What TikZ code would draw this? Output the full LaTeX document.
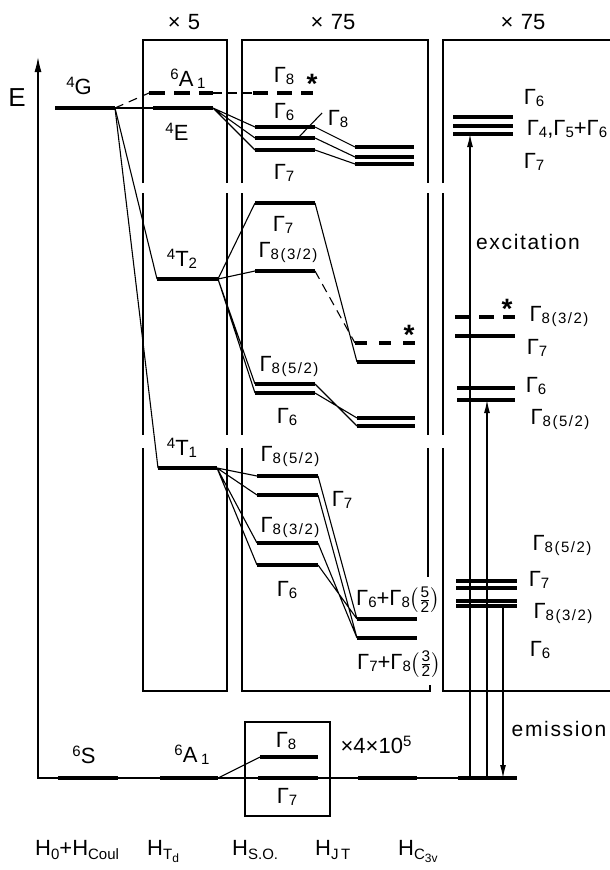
\documentclass[tikz,border=0pt]{standalone}
\usepackage{amsmath}
\usepackage{graphicx}
\usepackage{fontspec}
\setmainfont{Liberation Sans}
\usetikzlibrary{arrows.meta}
\newcommand\lo[1]{\raisebox{-2pt}{\fontsize{15}{15}\selectfont\addfontfeature{LetterSpace=10}#1}}
\newcommand\llo[1]{\raisebox{-4pt}{\fontsize{15}{15}\selectfont #1}}
\newcommand\hi[1]{\raisebox{7.5pt}{\fontsize{15}{15}\selectfont #1}}
\newcommand\G[1]{Γ\lo{#1}}
\newcommand\fr[2]{$\left(\frac{\text{#1}}{\text{#2}}\right)$}
\begin{document}
\begin{tikzpicture}[x=1pt,y=-1pt,
  lvl/.style={line width=4.4pt},
  dlvl/.style={line width=4.4pt, dash pattern=on 15pt off 9pt},
  djt/.style={line width=4.4pt, dash pattern=on 12pt off 12pt},
  thinln/.style={line width=1.1pt},
  dthin/.style={line width=1.1pt, dash pattern=on 9pt off 6pt},
  frame/.style={line width=1.3pt},
  lbl/.style={font=\fontsize{22}{22}\selectfont, inner sep=0pt},
  word/.style={font=\fontsize{21}{21}\selectfont\addfontfeature{LetterSpace=8}, inner sep=0pt},
  star/.style={font=\fontsize{28}{28}\selectfont\bfseries, inner sep=0pt, anchor=north},
  arr/.style={line width=1.2pt, -{Latex[length=13pt,width=6pt]}},
]
\useasboundingbox (0,0) rectangle (610,870);

% ---------- frames ----------
\draw[frame] (143,183) -- (143,40) -- (227,40) -- (227,183);
\draw[frame] (143,193) -- (143,435) (227,193) -- (227,435);
\draw[frame] (143,448) -- (143,691) -- (227,691) -- (227,448);
\draw[frame] (242,183) -- (242,40) -- (428,40) -- (428,183);
\draw[frame] (242,193) -- (242,435) (428,193) -- (428,435);
\draw[frame] (242,448) -- (242,691) -- (430,691) -- (430,685) (428,448) -- (428,577);
\draw[frame] (443,183) -- (443,40) -- (615,40);
\draw[frame] (443,193) -- (443,435);
\draw[frame] (443,448) -- (443,691) -- (615,691);
\draw[frame] (245,722) rectangle (330,816);

% ---------- coordinates ----------
\coordinate (O) at (38,778);
\coordinate (Etop) at (38,57);
\coordinate (Bend) at (517,778);
\coordinate (G1) at (55,108);  \coordinate (G2) at (115,108);
\coordinate (A1a) at (149,93); \coordinate (A1b) at (213,93);
\coordinate (Ea) at (153,108); \coordinate (Eb) at (213,108);
\coordinate (T2a) at (157,279); \coordinate (T2b) at (218,279);
\coordinate (T1a) at (158,468); \coordinate (T1b) at (217,468);
% box 2 top
\coordinate (g8a) at (253,93);  \coordinate (g8b) at (313,93);
\coordinate (g6a) at (255,127); \coordinate (g6b) at (315,127);
\coordinate (gma) at (255,138); \coordinate (gmb) at (315,138);
\coordinate (g7a) at (255,150); \coordinate (g7b) at (315,150);
\coordinate (j1a) at (355,147); \coordinate (j1b) at (414,147);
\coordinate (j2a) at (355,157); \coordinate (j2b) at (414,157);
\coordinate (j3a) at (355,164); \coordinate (j3b) at (414,164);
% 4T2
\coordinate (u7a) at (255,203);  \coordinate (u7b) at (315,203);
\coordinate (u83a) at (255,271); \coordinate (u83b) at (315,271);
\coordinate (u85a) at (255,384); \coordinate (u85b) at (315,384);
\coordinate (u6a) at (255,393);  \coordinate (u6b) at (315,393);
\coordinate (k8a) at (355,343); \coordinate (k8b) at (415,343);
\coordinate (k7a) at (357,362); \coordinate (k7b) at (415,362);
\coordinate (k1a) at (357,418); \coordinate (k1b) at (415,418);
\coordinate (k2a) at (357,426); \coordinate (k2b) at (415,426);
% 4T1
\coordinate (v85a) at (257,476); \coordinate (v85b) at (318,476);
\coordinate (v7a) at (257,495);  \coordinate (v7b) at (318,495);
\coordinate (v83a) at (257,543); \coordinate (v83b) at (318,543);
\coordinate (v6a) at (257,565);  \coordinate (v6b) at (318,565);
\coordinate (m1a) at (357,619); \coordinate (m1b) at (417,619);
\coordinate (m2a) at (357,638); \coordinate (m2b) at (417,638);
% C3v
\coordinate (c1a) at (453,117); \coordinate (c1b) at (513,117);
\coordinate (c2a) at (453,126); \coordinate (c2b) at (513,126);
\coordinate (c3a) at (453,134); \coordinate (c3b) at (513,134);
\coordinate (c8a) at (455,317); \coordinate (c8b) at (515,317);
\coordinate (c7a) at (455,336); \coordinate (c7b) at (515,336);
\coordinate (c6a) at (457,388); \coordinate (c6b) at (515,388);
\coordinate (c5a) at (457,400); \coordinate (c5b) at (515,400);
\coordinate (d1a) at (456,581); \coordinate (d1b) at (517,581);
\coordinate (d2a) at (456,588); \coordinate (d2b) at (517,588);
\coordinate (d3a) at (456,601); \coordinate (d3b) at (517,601);
\coordinate (d4a) at (456,606); \coordinate (d4b) at (517,606);
% ground
\coordinate (s6a) at (58,778);  \coordinate (s6b) at (118,778);
\coordinate (a6a) at (160,778); \coordinate (a6b) at (218,778);
\coordinate (b7a) at (258,778); \coordinate (b7b) at (318,778);
\coordinate (b8a) at (260,757); \coordinate (b8b) at (318,757);
\coordinate (bja) at (358,778); \coordinate (bjb) at (417,778);
\coordinate (bca) at (458,778); \coordinate (bcb) at (517,778);
% arrows
\coordinate (x1b) at (470,778); \coordinate (x1t) at (470,134);
\coordinate (x2b) at (487,778); \coordinate (x2t) at (487,400);
\coordinate (e1t) at (503,606); \coordinate (e1b) at (503,778);

% ---------- axis ----------
\draw[line width=1.3pt, -{Latex[length=15pt,width=7pt]}] (Bend) -- (O) -- (Etop);

% ---------- thin connectors ----------
\draw[thinln] (G2) -- (Ea);
\draw[dthin] (G2) -- (A1a);
\draw[dthin] (A1b) -- (g8a);
\draw[thinln] (G2) -- (T2a);
\draw[thinln] (G2) -- (T1a);
\draw[thinln] (Eb) -- (g6a) (Eb) -- (gma) (Eb) -- (g7a);
\draw[thinln] (g6b) -- (j1a) (gmb) -- (j2a) (g7b) -- (j3a);
\draw[thinln] (T2b) -- (u7a) (T2b) -- (u83a) (T2b) -- (u85a) (T2b) -- (u6a);
\draw[thinln] (u7b) -- (k7a) (u85b) -- (k2a) (u6b) -- (k1a);
\draw[dthin] (u83b) -- (k8a);
\draw[thinln] (T1b) -- (v85a) (T1b) -- (v7a) (T1b) -- (v83a) (T1b) -- (v6a);
\draw[thinln] (v85b) -- (m1a) (v7b) -- (m2a) (v83b) -- (m2a) (v6b) -- (m1a);
\draw[thinln] (a6b) -- (b8a);

% ---------- levels ----------
\draw[lvl] (G1) -- (G2);
\draw[lvl, dash pattern=on 16pt off 9pt] (A1a) -- (A1b);
\draw[lvl] (Ea) -- (Eb);
\draw[lvl] (T2a) -- (T2b);
\draw[lvl] (T1a) -- (T1b);
\draw[dlvl] (g8a) -- (g8b);
\draw[lvl] (g6a) -- (g6b) (gma) -- (gmb) (g7a) -- (g7b);
\draw[lvl] (j1a) -- (j1b) (j2a) -- (j2b) (j3a) -- (j3b);
\draw[lvl] (u7a) -- (u7b) (u83a) -- (u83b) (u85a) -- (u85b) (u6a) -- (u6b);
\draw[djt] (k8a) -- (k8b);
\draw[lvl] (k7a) -- (k7b) (k1a) -- (k1b) (k2a) -- (k2b);
\draw[lvl] (v85a) -- (v85b) (v7a) -- (v7b) (v83a) -- (v83b) (v6a) -- (v6b);
\draw[lvl] (m1a) -- (m1b) (m2a) -- (m2b);
\draw[lvl] (c1a) -- (c1b) (c2a) -- (c2b) (c3a) -- (c3b);
\draw[dlvl] (c8a) -- (c8b);
\draw[lvl] (c7a) -- (c7b) (c6a) -- (c6b) (c5a) -- (c5b);
\draw[lvl] (d1a) -- (d1b) (d2a) -- (d2b) (d3a) -- (d3b) (d4a) -- (d4b);
\draw[lvl] (s6a) -- (s6b) (a6a) -- (a6b) (b7a) -- (b7b) (b8a) -- (b8b) (bja) -- (bjb) (bca) -- (bcb);

% ---------- transitions ----------
\draw[arr] (x1b) -- (x1t);
\draw[arr] (x2b) -- (x2t);
\draw[arr] (e1t) -- (e1b);

% ---------- labels ----------
\node[lbl] (xfive) at (184,22) {×\,\,5};
\node[lbl] (xsa) at (333,22) {×\,\,75};
\node[lbl] (xsb) at (523,22) {×\,\,75};
\node[lbl, font=\fontsize{26}{26}\selectfont] (Elab) at (17,98) {E};
\node[lbl] (lG) at (79,86) {\hi{4}G};
\node[lbl] (lA1) at (188,79) {\hi{6}A\,\lo{1}};
\node[lbl] (lE) at (177,132) {\hi{4}E};
\node[lbl] (lT2) at (182,259) {\hi{4}T\lo{2}};
\node[lbl] (lT1) at (182,448) {\hi{4}T\lo{1}};
\node[lbl] (lS) at (84,755) {\hi{6}S};
\node[lbl] (lA1g) at (192,755) {\hi{6}A\,\lo{1}};

\node[lbl] (h8) at (284,76) {\G{8}};
\node[star] (s1) at (312,74) {*};
\node[lbl] (h6) at (284,112) {\G{6}};
\node[lbl] (h8r) at (338,119) {\G{8}};
\draw[thinln] (322,113) -- (gmb -| 298,0);
\node[lbl] (h7) at (284,173) {\G{7}};

\node[lbl] (p7) at (283,225) {\G{7}};
\node[lbl] (p83) at (288,252) {\G{8(3/2)}};
\node[star] (s2) at (409,325) {*};
\node[lbl] (p85) at (289,366) {\G{8(5/2)}};
\node[lbl] (p6) at (287,417) {\G{6}};

\node[lbl] (q85) at (290,456) {\G{8(5/2)}};
\node[lbl] (q7) at (342,500) {\G{7}};
\node[lbl] (q83) at (290,527) {\G{8(3/2)}};
\node[lbl] (q6) at (287,590) {\G{6}};
\node[lbl] (r1) at (398,600) {\G{6}+\G{8}\fr{5}{2}};
\node[lbl] (r2) at (399,664) {\G{7}+\G{8}\fr{3}{2}};

\node[lbl] (w8) at (286,741) {\G{8}};
\node[lbl] (w7) at (287,797) {\G{7}};
\node[lbl] (wx) at (376,745) {×4×10\hi{5}};

\node[lbl] (z6) at (534,98) {\G{6}};
\node[lbl] (z45) at (567,129) {\G{4},\G{5}+\G{6}};
\node[lbl] (z7) at (534,162) {\G{7}};
\node[word] (exc) at (528,242) {excitation};
\node[star] (s3) at (507,299) {*};
\node[lbl] (y83) at (559,316) {\G{8(3/2)}};
\node[lbl] (y7) at (537,348) {\G{7}};
\node[lbl] (y6) at (536,386) {\G{6}};
\node[lbl] (y85) at (560,419) {\G{8(5/2)}};
\node[lbl] (t85) at (562,545) {\G{8(5/2)}};
\node[lbl] (t7) at (539,580) {\G{7}};
\node[lbl] (t83) at (563,613) {\G{8(3/2)}};
\node[lbl] (t6) at (540,650) {\G{6}};
\node[word] (emi) at (559,729) {emission};

\node[lbl, anchor=base west] (H1) at (35,855) {H\llo{0}+H\llo{Coul}};
\node[lbl, anchor=base west] (H2) at (147,855) {H\llo{T\raisebox{-3pt}{\fontsize{12}{12}\selectfont d}}};
\node[lbl, anchor=base west] (H3) at (232,855) {H\llo{S.O.}};
\node[lbl, anchor=base west] (H4) at (315,855) {H\llo{J\,T}};
\node[lbl, anchor=base west] (H5) at (398,855) {H\llo{C\raisebox{-3pt}{\fontsize{12}{12}\selectfont 3v}}};
\end{tikzpicture}
\end{document}
